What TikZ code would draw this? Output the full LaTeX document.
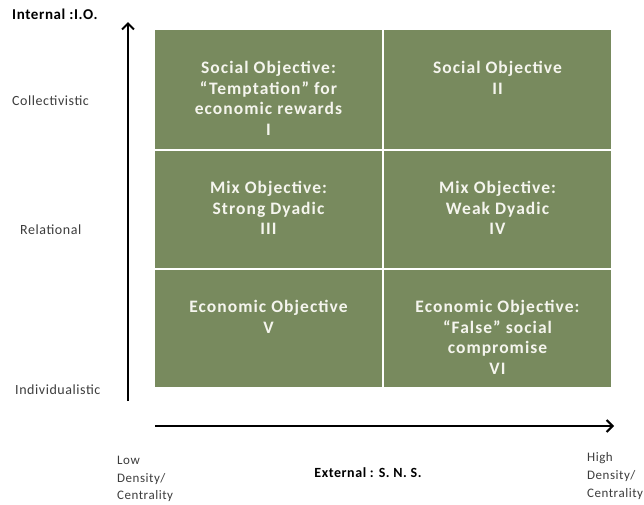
\documentclass[tikz,border=0pt]{standalone}
\usepackage{fontspec}
\setmainfont{Carlito}
\newfontfamily\cellfont[LetterSpace=6]{Carlito}
\newfontfamily\labfont[LetterSpace=4]{Carlito}
\usetikzlibrary{arrows.meta}
\definecolor{cellgreen}{RGB}{120,138,94}
\definecolor{celltext}{RGB}{245,245,238}
\definecolor{labgrey}{RGB}{60,60,60}
\tikzset{
  cell/.style={fill=cellgreen, draw=white, line width=1.5pt},
  celltxt/.style={anchor=north, align=center, text=celltext, font=\cellfont\fontsize{17.5}{20.5}\selectfont\bfseries, inner sep=0pt},
  axislab/.style={anchor=west, text=labgrey, font=\labfont\fontsize{14}{16}\selectfont, inner sep=0pt},
  axisarrow/.style={line width=2pt, -{Straight Barb[length=6pt,width=12pt,line width=2pt]}},
}
\begin{document}
\begin{tikzpicture}[x=1pt,y=-1pt]
\useasboundingbox (0,0) rectangle (644,504);
% cells
\path[cell] (154,29) rectangle (383,150);
\path[cell] (383,29) rectangle (612,150);
\path[cell] (154,150) rectangle (383,269);
\path[cell] (383,150) rectangle (612,269);
\path[cell] (154,269) rectangle (383,388);
\path[cell] (383,269) rectangle (612,388);
\node[celltxt] (c1) at (268.5,61) {Social Objective:\\“Temptation” for\\economic rewards\\I};
\node[celltxt] (c2) at (497.5,61) {Social Objective\\II};
\node[celltxt] (c3) at (268.5,181) {Mix Objective:\\Strong Dyadic\\III};
\node[celltxt] (c4) at (497.5,181) {Mix Objective:\\Weak Dyadic\\IV};
\node[celltxt] (c5) at (268.5,300) {Economic Objective\\V};
\node[celltxt] (c6) at (497.5,300) {Economic Objective:\\“False” social\\compromise\\VI};
% axes
\coordinate (v0) at (128,401);
\coordinate (v1) at (128,22);
\coordinate (h0) at (155,426);
\coordinate (h1) at (614,426);
\draw[axisarrow] (v0) -- (v1);
\draw[axisarrow] (h0) -- (h1);
% labels
\node[axislab, text=black, font=\labfont\fontsize{15}{17}\selectfont\bfseries] (lio) at (12,14) {Internal :I.O.};
\node[axislab] (lcol) at (12,101) {Collectivistic};
\node[axislab] (lrel) at (20,230) {Relational};
\node[axislab] (lind) at (15,390) {Individualistic};
\node[axislab, anchor=north west, align=left, font=\labfont\fontsize{13}{17.5}\selectfont] (llow) at (117,456) {Low\\Density/\\Centrality};
\node[axislab, anchor=center, text=black, font=\labfont\fontsize{14}{16}\selectfont\bfseries] (lext) at (368,473) {External : S. N. S.};
\node[axislab, anchor=north west, align=left, font=\labfont\fontsize{13}{18}\selectfont] (lhigh) at (587,452) {High\\Density/\\Centrality};
\end{tikzpicture}
\end{document}
